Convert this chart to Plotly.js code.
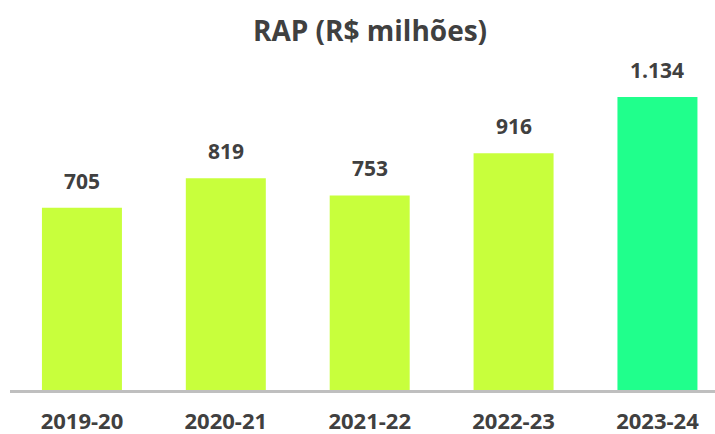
<!DOCTYPE html>
<html>
<head>
<meta charset="utf-8">
<script src="https://cdn.plot.ly/plotly-3.0.1.min.js"></script>
<style>html,body{margin:0;padding:0;background:#fff;}#chart{width:715px;height:434px;}</style>
</head>
<body>
<div id="chart"></div>
<script>
var categories = ["2019-20", "2020-21", "2021-22", "2022-23", "2023-24"];
var values = [705, 819, 753, 916, 1134];
var barColors = ["#c8ff3c", "#c8ff3c", "#c8ff3c", "#c8ff3c", "#20ff8c"];

function fmt(v) {
  return String(v).replace(/\B(?=(\d{3})+(?!\d))/g, ".");
}

var trace = {
  type: "bar",
  x: categories,
  y: values,
  marker: {color: barColors},
  hoverinfo: "none"
};

var annotations = categories.map(function (c, i) {
  return {
    x: c, y: values[i], xref: "x", yref: "y",
    text: fmt(values[i]), showarrow: false,
    yanchor: "bottom", yshift: 11,
    font: {family: "Open Sans", size: 21, color: "#404040", weight: 700}
  };
});

var layout = {
  width: 715, height: 434,
  margin: {l: 10, r: 0, t: 60, b: 44},
  paper_bgcolor: "#ffffff", plot_bgcolor: "#ffffff",
  bargap: 0.444,
  showlegend: false,
  title: {
    text: "<b>RAP (R$ milhões)</b>",
    x: 0.5175, xanchor: "center", y: 0.928, yanchor: "middle",
    font: {family: "Open Sans", size: 28, color: "#404040"}
  },
  xaxis: {
    type: "category",
    range: [-0.5, 4.4],
    showline: true, linecolor: "#bfbfbf", linewidth: 3,
    ticks: "", showgrid: false, zeroline: false,
    ticklabelstandoff: 10,
    tickfont: {family: "Open Sans", size: 22, color: "#404040", weight: 700}
  },
  yaxis: {
    range: [0, 1277],
    visible: false, showgrid: false, zeroline: false
  },
  annotations: annotations
};

Plotly.newPlot("chart", [trace], layout, {displayModeBar: false, staticPlot: true});
</script>
</body>
</html>
